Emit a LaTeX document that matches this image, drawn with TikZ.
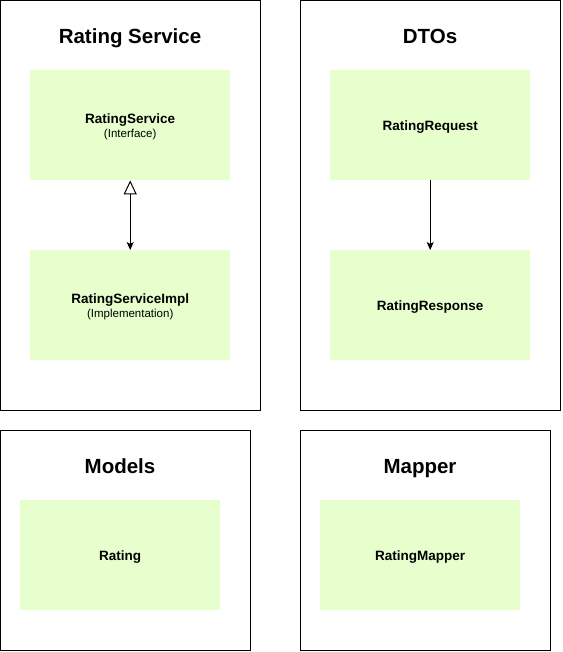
\documentclass[tikz,border=0pt]{standalone}
\usepackage{fontspec}
\setmainfont{Liberation Sans}
\usetikzlibrary{arrows.meta}
\definecolor{boxgreen}{HTML}{E6FFCC}
\begin{document}
\begin{tikzpicture}[x=1pt,y=-1pt,
  container/.style={draw=black,line width=1pt,fill=white},
  classbox/.style={fill=boxgreen,draw=none,minimum width=200pt,minimum height=110pt,align=center,inner sep=0pt,anchor=north west},
  oneline/.style={text height=10pt,text depth=0pt},
  title/.style={font=\fontsize{20.5}{24}\selectfont\bfseries,anchor=base,inner sep=0pt},
  conn/.style={line width=1pt,draw=black}
]
\useasboundingbox (0,0) rectangle (562,652);
% containers
\draw[container] (0.5,0.5) rectangle (260.5,410.5);
\draw[container] (300.5,0.5) rectangle (560.5,410.5);
\draw[container] (0.5,430.5) rectangle (250.5,650.5);
\draw[container] (300.5,430.5) rectangle (550.5,650.5);
% titles
\node[title] (t1) at (130,43.5) {Rating Service};
\node[title] (t2) at (430,43.5) {DTOs};
\node[title] (t3) at (120,473.5) {Models};
\node[title] (t4) at (420,473.5) {Mapper};
% boxes
\node[classbox] (rs) at (30,70) {{\fontsize{13.5}{15}\selectfont\bfseries\rule{0pt}{12.7pt}RatingService}\\[2.5pt]{\fontsize{11.5}{13}\selectfont (Interface)}};
\node[classbox] (rsi) at (30,250) {{\fontsize{13.5}{15}\selectfont\bfseries\rule{0pt}{12.7pt}RatingServiceImpl}\\[2.5pt]{\fontsize{11.5}{13}\selectfont (Implementation)}};
\node[classbox,oneline] (req) at (330,70) {\fontsize{13.5}{15}\selectfont\bfseries RatingRequest};
\node[classbox,oneline] (resp) at (330,250) {\fontsize{13.5}{15}\selectfont\bfseries RatingResponse};
\node[classbox,oneline] (rat) at (20,500) {\fontsize{13.5}{15}\selectfont\bfseries Rating};
\node[classbox,oneline] (map) at (320,500) {\fontsize{13.5}{15}\selectfont\bfseries RatingMapper};
% connectors
\draw[conn,{Triangle[open,length=14pt,width=13pt,line width=1pt]}-{Stealth[length=8pt,width=7pt,inset=2pt]}] (rs.south) -- (rsi.north);
\draw[conn,-{Stealth[length=8pt,width=7pt,inset=2pt]}] (req.south) -- (resp.north);
\end{tikzpicture}
\end{document}
